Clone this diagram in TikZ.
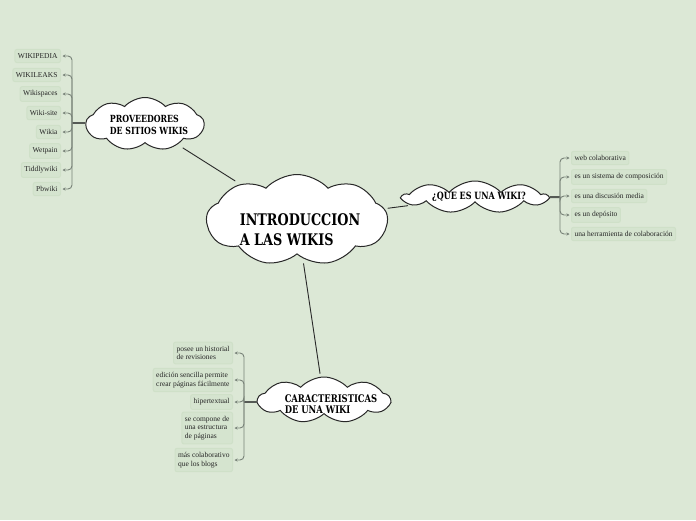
\documentclass[tikz,border=0pt]{standalone}
\usepackage{fontspec}
\setmainfont{Liberation Serif}
\newfontfamily\titlefont{DejaVu Serif}[FakeStretch=0.8]
\usetikzlibrary{shapes.symbols,arrows.meta}
\definecolor{bg}{RGB}{220,232,214}
\definecolor{leaffill}{RGB}{213,228,207}
\definecolor{leafdraw}{RGB}{207,224,200}
\definecolor{branch}{RGB}{120,130,120}
\definecolor{trunk}{RGB}{85,90,85}
\definecolor{ink}{RGB}{40,40,40}
\begin{document}
\begin{tikzpicture}[x=1pt,y=-1pt,
 cloudnode/.style={cloud, cloud puffs=9, cloud puff arc=95, cloud ignores aspect, draw=ink, line width=1pt, fill=white, inner sep=0pt},
 titletext/.style={align=left, inner sep=0pt, text=black},
 leaf/.style={fill=leaffill, draw=leafdraw, line width=1pt, rounded corners=2pt, font=\fontsize{7.5}{8.5}\selectfont, inner xsep=3pt, inner ysep=4pt, align=left, text=black!85},
 link/.style={draw=ink, line width=0.9pt},
 trunkline/.style={draw=trunk, line width=2pt},
 branchline/.style={draw=branch, line width=0.9pt, rounded corners=4pt, -{Stealth[length=3pt,width=3pt]}, shorten >=1.5pt},
]
\fill[bg] (0,0) rectangle (696,520);
\useasboundingbox (0,0) rectangle (696,520);

% clouds
\node[cloudnode, minimum width=181pt, minimum height=91pt] (main) at (297,220) {};
\node[titletext, font=\titlefont\bfseries\fontsize{16}{20}\selectfont] (mainT) at (300,230) {INTRODUCCION\\A LAS WIKIS};
\node[cloudnode, minimum width=118pt, minimum height=53pt] (prov) at (145,124) {};
\node[titletext, font=\titlefont\bfseries\fontsize{9.8}{12}\selectfont] (provT) at (149,125) {PROVEEDORES\\DE SITIOS WIKIS};
\node[cloudnode, minimum width=144pt, minimum height=32pt] (que) at (475,197) {};
\node[titletext, font=\titlefont\bfseries\fontsize{10}{12}\selectfont] (queT) at (479,197) {¿QUE ES UNA WIKI?};
\node[cloudnode, minimum width=132pt, minimum height=46pt] (car) at (324,400) {};
\node[titletext, font=\titlefont\bfseries\fontsize{10.5}{11}\selectfont] (carT) at (331,404) {CARACTERISTICAS\\DE UNA WIKI};

% main links
\draw[link, shorten <=6pt, shorten >=6pt] (main) -- (prov);
\draw[link, shorten <=3pt, shorten >=20pt] (main) -- (que);
\draw[link, shorten <=5pt, shorten >=3pt] (main) -- (car);

% left leaves
\node[leaf, anchor=east] (p1) at (61,56) {WIKIPEDIA};
\node[leaf, anchor=east] (p2) at (61,75) {WIKILEAKS};
\node[leaf, anchor=east] (p3) at (61,94) {Wikispaces};
\node[leaf, anchor=east] (p4) at (61,113) {Wiki-site};
\node[leaf, anchor=east] (p5) at (61,132) {Wikia};
\node[leaf, anchor=east] (p6) at (61,151) {Wetpain};
\node[leaf, anchor=east] (p7) at (61,170) {Tiddlywiki};
\node[leaf, anchor=east] (p8) at (61,189) {Pbwiki};
\coordinate (jp) at (72,123);
\draw[trunkline] (jp) -- (jp -| prov.west);
\foreach \n in {p1,p2,p3,p4,p5,p6,p7,p8}
  \draw[branchline] (jp) |- (\n.east);

% right leaves
\node[leaf, anchor=west] (q1) at (571,158) {web colaborativa};
\node[leaf, anchor=west] (q2) at (571,177) {es un sistema de composición};
\node[leaf, anchor=west] (q3) at (571,196) {es una discusión media};
\node[leaf, anchor=west] (q4) at (571,215) {es un depósito};
\node[leaf, anchor=west] (q5) at (571,234) {una herramienta de colaboración};
\coordinate (jq) at (560,197);
\draw[trunkline] (que.east) -- (jq);
\foreach \n in {q1,q2,q3,q4,q5}
  \draw[branchline] (jq) |- (\n.west);

% bottom leaves
\node[leaf, anchor=east] (c1) at (233,353) {posee un historial\\de revisiones};
\node[leaf, anchor=east] (c2) at (233,380) {edición sencilla permite\\crear páginas fácilmente};
\node[leaf, anchor=east] (c3) at (233,402) {hipertextual};
\node[leaf, anchor=east] (c4) at (233,428) {se compone de\\una estructura\\de páginas};
\node[leaf, anchor=east] (c5) at (233,460) {más colaborativo\\que los blogs};
\coordinate (jc) at (244,402);
\draw[trunkline] (jc) -- (jc -| car.west);
\foreach \n in {c1,c2,c3,c4,c5}
  \draw[branchline] (jc) |- (\n.east);
\end{tikzpicture}
\end{document}
